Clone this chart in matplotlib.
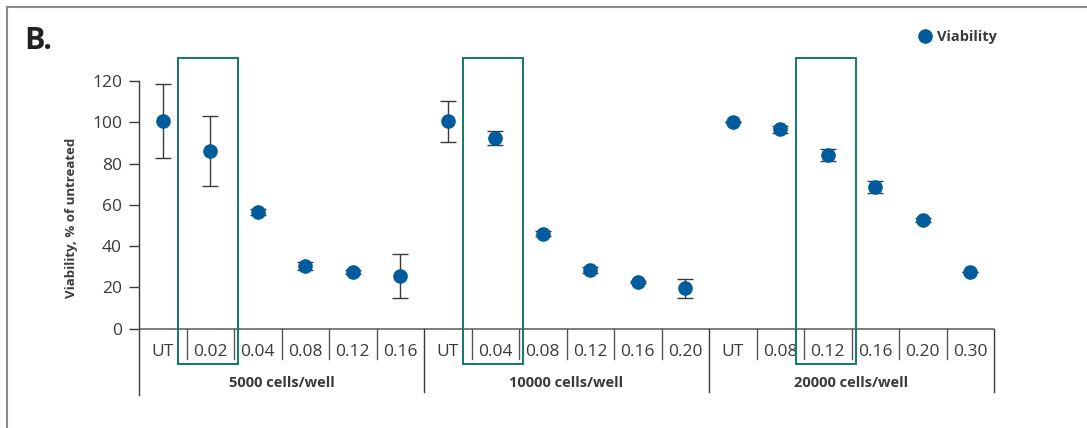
import matplotlib.pyplot as plt
from matplotlib.patches import Rectangle
from matplotlib.lines import Line2D

plt.rcParams['font.family'] = ['Open Sans', 'DejaVu Sans']

# datos
grupos = ['5000 cells/well', '10000 cells/well', '20000 cells/well']
dosis_1 = ['UT', '0.02', '0.04', '0.08', '0.12', '0.16']
dosis_2 = ['UT', '0.04', '0.08', '0.12', '0.16', '0.20']
dosis_3 = ['UT', '0.08', '0.12', '0.16', '0.20', '0.30']
viab_1 = [100.5, 86, 56.5, 30.5, 27.5, 25.5]
viab_2 = [100.5, 92.5, 46, 28.5, 22.5, 19.5]
viab_3 = [100.3, 96.5, 84, 68.5, 52.7, 27.5]
err_1 = [18, 17, 1.5, 2, 1, 10.5]
err_2 = [10, 3.5, 1.2, 1.5, 0.5, 4.7]
err_3 = [0, 1.5, 3, 3, 1, 0]
destacado = ['0.02', '0.04', '0.12']

azul = '#005c9c'
verde = '#0f7a66'
gris = '#3a3a3a'

dosis = [dosis_1, dosis_2, dosis_3]
viab = viab_1 + viab_2 + viab_3
err = err_1 + err_2 + err_3
etiquetas = dosis_1 + dosis_2 + dosis_3
x = list(range(len(viab)))

fig = plt.figure(figsize=(10.87, 4.28), dpi=100)
ax = fig.add_axes([139 / 1087, 33 / 428, 855 / 1087, 314 / 428])
ax.set_xlim(-0.5, 17.5)
ax.set_ylim(-32.2, 120)

# puntos con barras de error
ax.errorbar(x, viab, yerr=err, fmt='none', ecolor=gris, elinewidth=1,
            capsize=5.5, capthick=1, zorder=2, clip_on=False)
ax.plot(x, viab, 'o', color=azul, markersize=9.5, zorder=3, clip_on=False)

# ejes
for s in ['top', 'right', 'bottom']:
    ax.spines[s].set_visible(False)
ax.spines['left'].set_color(gris)
ax.spines['left'].set_linewidth(1)
ax.set_yticks([0, 20, 40, 60, 80, 100, 120])
ax.tick_params(axis='y', length=7.2, width=1, color=gris, labelsize=12.5,
               labelcolor=gris, pad=5)
ax.set_xticks([])
ax.axhline(0, 0, 1, color='#666666', lw=1.2, zorder=1)
ax.set_ylabel('Viability, % of untreated', fontsize=9.5, fontweight='bold',
              color=gris)
ax.yaxis.set_label_coords(-0.071, 0.564)

# separadores y etiquetas de categorias
for i, lab in enumerate(etiquetas):
    ax.text(i, -11.2, lab, ha='center', va='center', fontsize=12.5, color=gris)
    if (i + 1) % 6 == 0:
        ax.plot([i + 0.5, i + 0.5], [0, -30.7], color=gris, lw=1, clip_on=False)
    else:
        ax.plot([i + 0.5, i + 0.5], [0, -14.6], color='#555555', lw=1, clip_on=False)
for g, nombre in enumerate(grupos):
    ax.text(g * 6 + 2.5, -26.3, nombre, ha='center', va='center', fontsize=10.5,
            fontweight='bold', color=gris)

# recuadros verdes
for g, d in enumerate(dosis):
    i = g * 6 + d.index(destacado[g])
    ax.add_patch(Rectangle((i - 0.67, -17.2), 1.26, 148.5, fill=False,
                           edgecolor=verde, lw=1.4, clip_on=False, zorder=4))

# leyenda
leyenda = [Line2D([0], [0], marker='o', color='none', markerfacecolor=azul,
                  markeredgecolor=azul, markersize=9.5, label='Viability')]
fig.legend(handles=leyenda, loc='center left', bbox_to_anchor=(901 / 1087, 1 - 37 / 428),
           frameon=False, handletextpad=0.1, handlelength=1.5,
           prop={'weight': 'bold', 'size': 10.5})
for t in fig.legends[0].get_texts():
    t.set_color(gris)

fig.text(24 / 1087, 1 - 41 / 428, 'B.', fontsize=22, fontweight='bold', color='#222222',
         va='center', ha='left')

# marco gris
fig.add_artist(Line2D([7 / 1087, 1], [1 - 7 / 428, 1 - 7 / 428], color='#8a8a8a', lw=1.5))
fig.add_artist(Line2D([7 / 1087, 7 / 1087], [0, 1 - 7 / 428], color='#8a8a8a', lw=1.5))

fig.savefig('out.png', dpi=100)
